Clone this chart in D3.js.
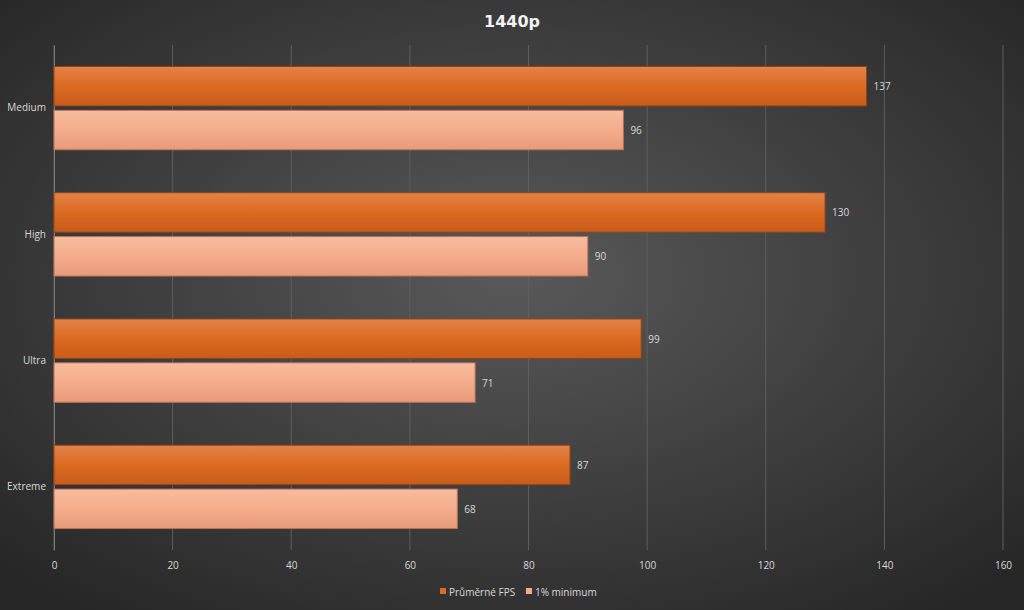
<!DOCTYPE html>
<html><head><meta charset="utf-8">
<script src="https://cdn.jsdelivr.net/npm/d3@7"></script>
<style>body{margin:0;background:#333}svg{display:block}</style>
</head><body>
<script>
const categories = ['Medium', 'High', 'Ultra', 'Extreme']
const avgFps = [137, 130, 99, 87]
const minFps = [96, 90, 71, 68]
const seriesNames = ['Průměrné FPS', '1% minimum']
const xTicks = [0, 20, 40, 60, 80, 100, 120, 140, 160]

const width = 1024, height = 610
const margin = {top: 45, right: 21, bottom: 60, left: 54}
const innerW = width - margin.left - margin.right
const innerH = height - margin.top - margin.bottom

const svg = d3.select('body').append('svg').attr('width', width).attr('height', height)
const defs = svg.append('defs')
const bg = defs.append('radialGradient').attr('id', 'bg').attr('cx', '50%').attr('cy', '45%').attr('r', '70%')
bg.append('stop').attr('offset', '0%').attr('stop-color', '#595959')
bg.append('stop').attr('offset', '100%').attr('stop-color', '#262626')
const g1 = defs.append('linearGradient').attr('id', 'g1').attr('x1', 0).attr('y1', 0).attr('x2', 0).attr('y2', 1)
g1.append('stop').attr('offset', '0%').attr('stop-color', '#e2834a')
g1.append('stop').attr('offset', '50%').attr('stop-color', '#dc6a20')
g1.append('stop').attr('offset', '100%').attr('stop-color', '#c85c1a')
const g2 = defs.append('linearGradient').attr('id', 'g2').attr('x1', 0).attr('y1', 0).attr('x2', 0).attr('y2', 1)
g2.append('stop').attr('offset', '0%').attr('stop-color', '#f7bc9e')
g2.append('stop').attr('offset', '50%').attr('stop-color', '#f4ad8b')
g2.append('stop').attr('offset', '100%').attr('stop-color', '#e79a78')

svg.append('rect').attr('width', width).attr('height', height).attr('fill', 'url(#bg)')

svg.append('text').text('1440p').attr('x', width / 2).attr('y', 27)
  .attr('text-anchor', 'middle').attr('fill', '#f2f2f2')
  .style('font', 'bold 16px "DejaVu Sans", sans-serif')

const x = d3.scaleLinear().domain([0, 160]).range([0, innerW])
const y = d3.scaleBand().domain(categories).range([0, innerH]).paddingInner(0.34).paddingOuter(0.17)
const y2 = d3.scaleBand().domain([0, 1]).range([0, y.bandwidth()]).paddingInner(0.1)

const g = svg.append('g').attr('transform', `translate(${margin.left},${margin.top})`)

g.selectAll('.grid').data(xTicks).enter().append('line')
  .attr('x1', d => x(d)).attr('x2', d => x(d)).attr('y1', 0).attr('y2', innerH)
  .attr('stroke', '#5e5e5e').attr('stroke-width', 1)

const xAxis = d3.axisBottom(x).tickValues(xTicks).tickSize(0).tickPadding(12)
const ax = g.append('g').attr('transform', `translate(0,${innerH})`).call(xAxis)
ax.select('.domain').remove()
ax.selectAll('text').attr('fill', '#d9d9d9').style('font', '10px "Open Sans", sans-serif')

const yAxis = d3.axisLeft(y).tickSize(0).tickPadding(8)
const ay = g.append('g').call(yAxis)
ay.select('.domain').attr('stroke', '#7a7a7a')
ay.selectAll('text').attr('fill', '#d9d9d9').style('font', '10px "Open Sans", sans-serif')

const series = [avgFps, minFps]
series.forEach((vals, si) => {
  const rows = categories.map((c, i) => ({c, v: vals[i]}))
  g.selectAll('.bar' + si).data(rows).enter().append('rect')
    .attr('x', 0).attr('y', d => y(d.c) + y2(si))
    .attr('width', d => x(d.v)).attr('height', y2.bandwidth())
    .attr('fill', si ? 'url(#g2)' : 'url(#g1)')
    .attr('stroke', si ? '#b5735a' : '#8f4416').attr('stroke-width', 1)
  g.selectAll('.lab' + si).data(rows).enter().append('text')
    .text(d => d.v).attr('x', d => x(d.v) + 7).attr('y', d => y(d.c) + y2(si) + y2.bandwidth() / 2 + 4)
    .attr('fill', '#d9d9d9').style('font', '10px "Open Sans", sans-serif')
})

const legend = svg.append('g').attr('transform', `translate(440,592)`)
const lx = [0, 86]
seriesNames.forEach((n, i) => {
  legend.append('rect').attr('x', lx[i]).attr('y', -4).attr('width', 6).attr('height', 6)
    .attr('fill', i ? '#f4ad8b' : '#dc6a20')
  legend.append('text').text(n).attr('x', lx[i] + 9).attr('y', 3.5)
    .attr('fill', '#d9d9d9').style('font', '10px "Open Sans", sans-serif')
})
</script>
</body></html>
